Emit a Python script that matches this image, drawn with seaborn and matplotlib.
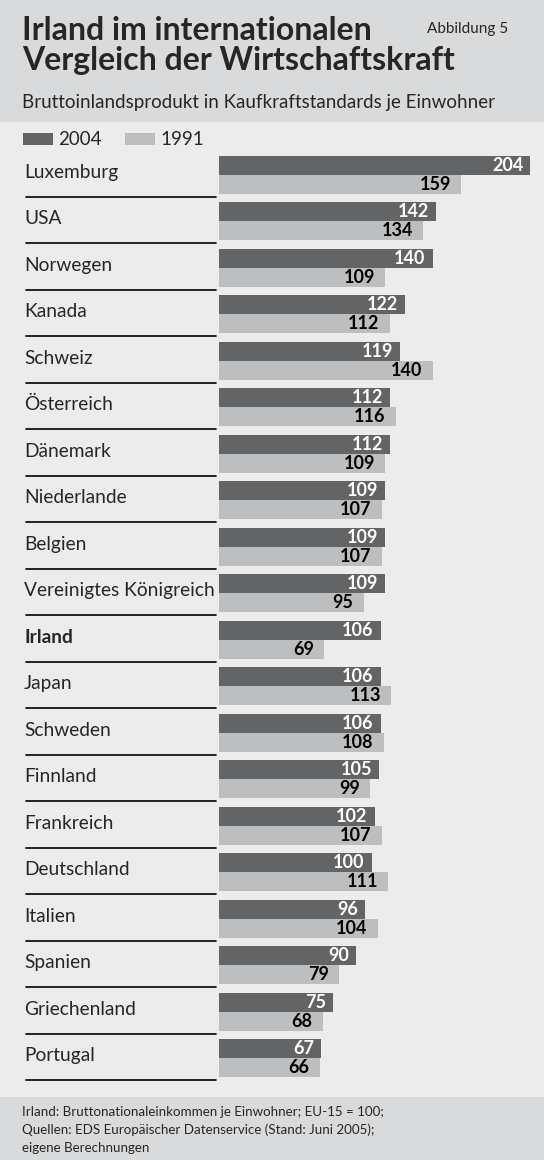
import pandas as pd
import numpy as np
import matplotlib
matplotlib.use('Agg')
import matplotlib.pyplot as plt
import seaborn as sns
from matplotlib.patches import Rectangle
from matplotlib.lines import Line2D
import matplotlib.transforms as mtransforms

# Daten
laender = ['Luxemburg', 'USA', 'Norwegen', 'Kanada', 'Schweiz', 'Österreich',
           'Dänemark', 'Niederlande', 'Belgien', 'Vereinigtes Königreich',
           'Irland', 'Japan', 'Schweden', 'Finnland', 'Frankreich',
           'Deutschland', 'Italien', 'Spanien', 'Griechenland', 'Portugal']
werte_2004 = [204, 142, 140, 122, 119, 112, 112, 109, 109, 109,
              106, 106, 106, 105, 102, 100, 96, 90, 75, 67]
werte_1991 = [159, 134, 109, 112, 140, 116, 109, 107, 107, 95,
              69, 113, 108, 99, 107, 111, 104, 79, 68, 66]
jahre = ['2004', '1991']

df = pd.DataFrame({
    'Land': laender * 2,
    'Jahr': [jahre[0]] * len(laender) + [jahre[1]] * len(laender),
    'Wert': werte_2004 + werte_1991,
})

sns.set_style('white')
plt.rcParams['font.family'] = ['Lato', 'DejaVu Sans']

dunkel = '#636466'
hell = '#bdbec0'
bg_mitte = '#ececec'
bg_kopf = '#d9dadb'

W, H = 544, 1160
fig = plt.figure(figsize=(W / 100, H / 100), dpi=100)
fig.patch.set_facecolor(bg_mitte)

# Kopf- und Fussbereich
fig.patches.append(Rectangle((0, 1 - 122 / H), 1, 122 / H, transform=fig.transFigure,
                             facecolor=bg_kopf, edgecolor='none', zorder=0))
fig.patches.append(Rectangle((0, 0), 1, 63 / H, transform=fig.transFigure,
                             facecolor=bg_kopf, edgecolor='none', zorder=0))

# Achse
pitch = 46.5
top_px = 151.35
ax = fig.add_axes([219 / W, 1 - (top_px + 20 * pitch) / H, 325 / W, 20 * pitch / H])
ax.set_facecolor('none')

sns.barplot(data=df, y='Land', x='Wert', hue='Jahr', hue_order=jahre,
            palette=[dunkel, hell], orient='h', width=0.82, dodge=True,
            gap=0, saturation=1, legend=False, linewidth=0, ax=ax)

ax.set_xlim(0, 325 / 1.525)
ax.set_ylim(19.5, -0.5)
ax.set_xlabel('')
ax.set_ylabel('')
ax.set_xticks([])
ax.set_yticks([])
for s in ax.spines.values():
    s.set_visible(False)

# Werte an den Balken
for i in range(len(laender)):
    ax.annotate(str(werte_2004[i]), (werte_2004[i], i - 0.205), xytext=(-5, 0),
                textcoords='offset points', ha='right', va='center',
                fontsize=13, fontweight='bold', color='white')
    ax.annotate(str(werte_1991[i]), (werte_1991[i], i + 0.205), xytext=(-7.5, 0),
                textcoords='offset points', ha='right', va='center',
                fontsize=13, fontweight='bold', color='black')

# Laenderbeschriftungen und Trennlinien
trans = mtransforms.blended_transform_factory(fig.transFigure, ax.transData)
for i, land in enumerate(laender):
    fig.text(24 / W, i - 0.05, land, transform=trans, ha='left', va='center',
             fontsize=13.8, fontweight='bold' if land == 'Irland' else 'normal')
    fig.add_artist(Line2D([26 / W, 216 / W], [i + 0.48, i + 0.48], transform=trans,
                          color='black', lw=1.2))

# Titel
fig.text(22 / W, 1 - 40 / H, 'Irland im internationalen', fontsize=23,
         fontweight='bold', ha='left', va='baseline')
fig.text(22 / W, 1 - 70 / H, 'Vergleich der Wirtschaftskraft', fontsize=23,
         fontweight='bold', ha='left', va='baseline')
fig.text(508 / W, 1 - 33 / H, 'Abbildung 5', fontsize=11, ha='right', va='baseline')
fig.text(22 / W, 1 - 108 / H, 'Bruttoinlandsprodukt in Kaufkraftstandards je Einwohner',
         fontsize=13.5, ha='left', va='baseline')

# Legende
for x0, farbe, jahr in [(23, dunkel, jahre[0]), (125, hell, jahre[1])]:
    fig.patches.append(Rectangle((x0 / W, 1 - 145 / H), 30 / W, 12 / H,
                                 transform=fig.transFigure, facecolor=farbe,
                                 edgecolor='none'))
    fig.text((x0 + 35) / W, 1 - 145 / H, jahr, fontsize=13.5, ha='left', va='baseline')

# Fussnote
fussnote = ['Irland: Bruttonationaleinkommen je Einwohner; EU-15 = 100;',
            'Quellen: EDS Europäischer Datenservice (Stand: Juni 2005);',
            'eigene Berechnungen']
for k, zeile in enumerate(fussnote):
    fig.text(22 / W, 1 - (1116 + k * 18) / H, zeile, fontsize=9.6, ha='left',
             va='baseline')

fig.savefig('out.png', dpi=100, facecolor=fig.get_facecolor())
